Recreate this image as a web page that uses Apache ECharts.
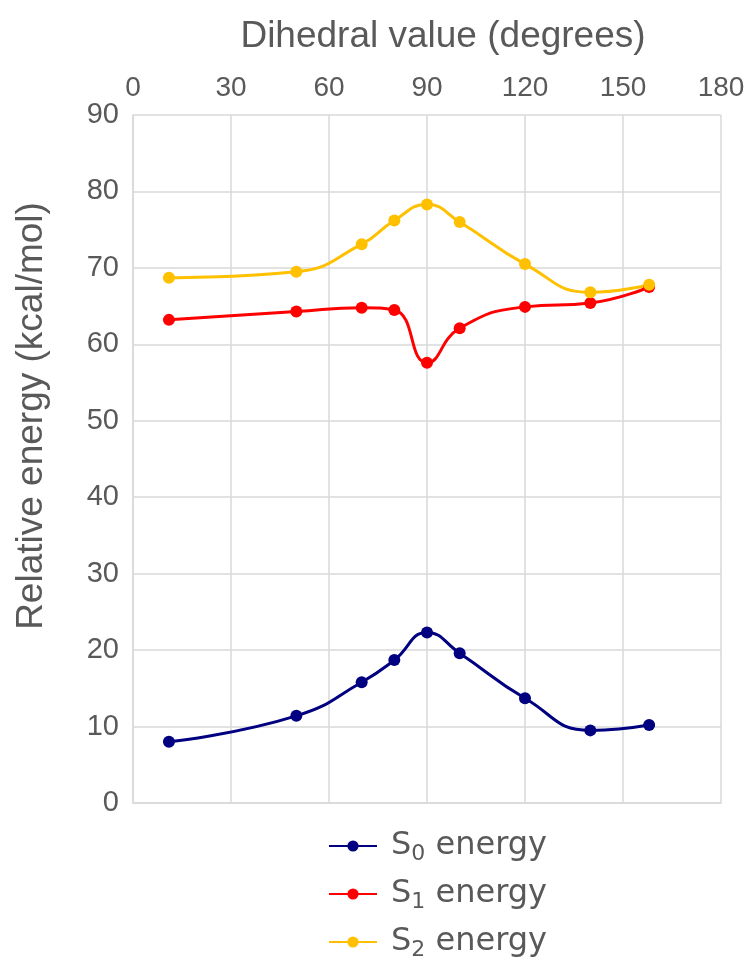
<!DOCTYPE html>
<html>
<head>
<meta charset="utf-8">
<script src="https://cdn.jsdelivr.net/npm/echarts@6/dist/echarts.min.js"></script>
<style>html,body{margin:0;padding:0;background:#fff;}#c{width:753px;height:958px;}</style>
</head>
<body>
<div id="c"></div>
<script>
var dihedral = [11, 50, 70, 80, 90, 100, 120, 140, 158];
var s0Energy = [8.0, 11.4, 15.8, 18.7, 22.3, 19.6, 13.7, 9.5, 10.2];
var s1Energy = [63.2, 64.3, 64.8, 64.5, 57.6, 62.1, 64.9, 65.4, 67.5];
var s2Energy = [68.7, 69.5, 73.1, 76.2, 78.3, 76.0, 70.5, 66.8, 67.8];
var seriesNames = ['S0 energy', 'S1 energy', 'S2 energy'];
var xTitle = 'Dihedral value (degrees)';
var yTitle = 'Relative energy (kcal/mol)';

function pairs(vals) { return dihedral.map(function (x, i) { return [x, vals[i]]; }); }

var chart = echarts.init(document.getElementById('c'));
var grey = '#595959';
var gridCol = '#d9d9d9';
var sans = '"Liberation Sans", Arial, sans-serif';
var wide = '"DejaVu Sans", sans-serif';

function mk(name, vals, color) {
  return {
    name: name, type: 'line', data: pairs(vals), smooth: 0.5,
    symbol: 'circle', symbolSize: 12,
    lineStyle: { color: color, width: 3 },
    itemStyle: { color: color },
    emphasis: { disabled: true }
  };
}

chart.setOption({
  animation: false,
  grid: { left: 133, right: 32, top: 115, bottom: 155, outerBoundsMode: 'none', containLabel: false },
  xAxis: {
    type: 'value', position: 'top', min: 0, max: 180, interval: 30,
    name: xTitle, nameLocation: 'middle', nameGap: 60,
    nameTextStyle: { fontSize: 37, color: grey, fontFamily: sans, padding: [0, 0, 0, 32] },
    axisLine: { show: true, lineStyle: { color: gridCol, width: 1.5 } },
    axisTick: { show: false },
    axisLabel: { fontSize: 28, color: grey, fontFamily: sans, margin: 13 },
    splitLine: { show: true, lineStyle: { color: gridCol, width: 1.5 } }
  },
  yAxis: {
    type: 'value', min: 0, max: 90, interval: 10,
    name: yTitle, nameLocation: 'middle', nameGap: 83, nameRotate: 90,
    nameTextStyle: { fontSize: 37, color: grey, fontFamily: sans, padding: [0, 0, 0, 86] },
    axisLine: { show: true, lineStyle: { color: gridCol, width: 1.5 } },
    axisTick: { show: false },
    axisLabel: { fontSize: 29, color: grey, fontFamily: sans, margin: 14 },
    splitLine: { show: true, lineStyle: { color: gridCol, width: 1.5 } }
  },
  legend: {
    orient: 'vertical', left: 328, top: 830, itemGap: 13, padding: 0, height: 140,
    itemWidth: 48, itemHeight: 14,
    data: seriesNames,
    formatter: function (n) { return 'S{sub|' + n.charAt(1) + '}' + n.slice(2); },
    textStyle: {
      fontSize: 32, color: grey, fontFamily: wide, padding: [0, 0, 0, 9],
      rich: { sub: { fontSize: 22, color: grey, fontFamily: wide, verticalAlign: 'bottom', padding: [16, 0, 0, 0] } }
    }
  },
  series: [
    mk(seriesNames[0], s0Energy, '#000080'),
    mk(seriesNames[1], s1Energy, '#ff0000'),
    mk(seriesNames[2], s2Energy, '#ffc000')
  ]
});
</script>
</body>
</html>
